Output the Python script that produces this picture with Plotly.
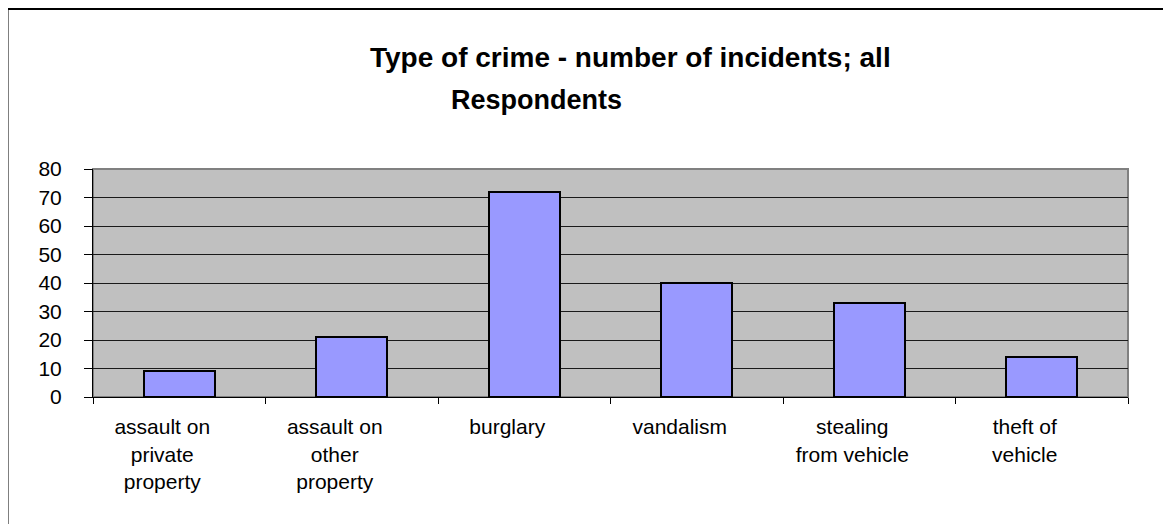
import plotly.graph_objects as go

# crime categories and incident counts
crime_types = ["assault on<br>private<br>property", "assault on<br>other<br>property", "burglary",
               "vandalism", "stealing<br>from vehicle", "theft of<br>vehicle"]
incidents = [9, 21, 72, 40, 33, 14]
y_ticks = [0, 10, 20, 30, 40, 50, 60, 70, 80]

W, H = 1171, 524
OFF = 8  # page body margin shifts the figure
L, T = 93 - OFF, 169 - OFF
pw, ph = 1035, 228
R, B = W - L - pw, H - T - ph


def px(x):
    return (x - OFF - L) / pw


def py(y):
    return (OFF + T + ph - y) / ph


font = "Liberation Sans, Arial, sans-serif"

fig = go.Figure(go.Bar(
    x=crime_types, y=incidents, width=0.41,
    marker=dict(color="#9999FF", line=dict(color="#000000", width=2)),
))

fig.update_layout(
    width=W, height=H,
    margin=dict(l=L, r=R, t=T, b=B),
    paper_bgcolor="white", plot_bgcolor="#C0C0C0",
    font=dict(family=font, size=21, color="black"),
    showlegend=False,
    bargap=0,
)
fig.update_xaxes(
    type="category", range=[-0.5, 5.5], showgrid=False,
    showline=True, linecolor="black", linewidth=1,
    ticks="outside", tickson="boundaries", ticklen=6, tickcolor="black",
    ticklabelstandoff=11, ticklabelshift=-17,
)
fig.update_yaxes(
    range=[0, 80], tickvals=y_ticks, showgrid=True, gridcolor="#1a1a1a", gridwidth=1,
    zeroline=False, showline=True, linecolor="black", linewidth=1,
    ticks="outside", ticklen=8, tickcolor="black", ticklabelstandoff=18,
)

# plot area frame (grey top/right edges) and outer chart border
fig.add_shape(type="rect", xref="paper", yref="paper", x0=0, x1=1, y0=0, y1=1,
              line=dict(color="#808080", width=2), layer="below")
fig.add_shape(type="rect", xref="paper", yref="paper",
              x0=px(7.5), x1=px(1190), y0=py(550), y1=py(9),
              line=dict(color="black", width=2))

fig.add_annotation(text="<b>Type of crime - number of incidents; all</b>", xref="paper", yref="paper",
                   x=px(368), y=py(57), xanchor="left", yanchor="middle", showarrow=False,
                   font=dict(size=28))
fig.add_annotation(text="<b>Respondents</b>", xref="paper", yref="paper",
                   x=px(449), y=py(100), xanchor="left", yanchor="middle", showarrow=False,
                   font=dict(size=27))

fig.write_html("out.html")
